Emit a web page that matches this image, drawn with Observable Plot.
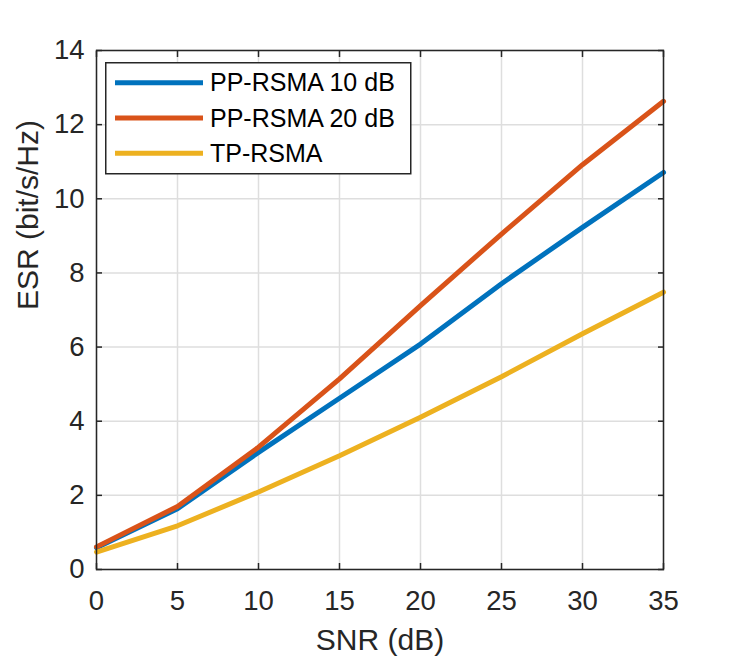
<!DOCTYPE html>
<html>
<head>
<meta charset="utf-8">
<script src="https://cdn.jsdelivr.net/npm/d3@7"></script>
<script src="https://cdn.jsdelivr.net/npm/@observablehq/plot@0.6"></script>
<style>
  html, body { margin: 0; padding: 0; background: #fff; }
  #wrap { position: relative; width: 731px; height: 659px; }
  #legend { position: absolute; left: 105px; top: 62px; }
</style>
</head>
<body>
<div id="wrap"></div>
<script>
const snr = [0, 5, 10, 15, 20, 25, 30, 35];
const pp10 = [0.59, 1.64, 3.16, 4.62, 6.08, 7.71, 9.23, 10.71];
const pp20 = [0.61, 1.70, 3.30, 5.14, 7.12, 9.05, 10.92, 12.63];
const tp   = [0.47, 1.18, 2.09, 3.07, 4.11, 5.20, 6.36, 7.48];
const seriesNames = ["PP-RSMA 10 dB", "PP-RSMA 20 dB", "TP-RSMA"];
const seriesColors = ["#0072BD", "#D95319", "#EDB120"];
const xTicks = [0, 5, 10, 15, 20, 25, 30, 35];
const yTicks = [0, 2, 4, 6, 8, 10, 12, 14];
const xLabel = "SNR (dB)";
const yLabel = "ESR (bit/s/Hz)";

const seriesValues = [pp10, pp20, tp];
const data = [];
seriesNames.forEach((name, k) => {
  snr.forEach((x, i) => data.push({series: name, snr: x, esr: seriesValues[k][i]}));
});

const ink = "#262626";
const chart = Plot.plot({
  width: 731,
  height: 659,
  marginLeft: 96,
  marginRight: 68,
  marginTop: 50,
  marginBottom: 90,
  style: {fontFamily: "Liberation Sans, Arial, sans-serif", fontSize: "27.5px", color: ink, background: "#fff"},
  x: {domain: [0, 35], label: null},
  y: {domain: [0, 14], label: null},
  color: {domain: seriesNames, range: seriesColors},
  marks: [
    Plot.gridX(xTicks, {stroke: "#dedede", strokeOpacity: 1, strokeWidth: 1.5}),
    Plot.gridY(yTicks, {stroke: "#dedede", strokeOpacity: 1, strokeWidth: 1.5}),
    Plot.line(data, {x: "snr", y: "esr", z: "series", stroke: "series", strokeWidth: 5, strokeLinejoin: "round"}),
    Plot.frame({stroke: ink, strokeWidth: 1.5}),
    Plot.axisX(xTicks, {anchor: "bottom", tickSize: -6, tickPadding: 27, stroke: ink, strokeWidth: 1.5, fill: ink, label: null}),
    Plot.axisX(xTicks, {anchor: "top", tickSize: -6, tickFormat: () => "", stroke: ink, strokeWidth: 1.5, label: null}),
    Plot.axisY(yTicks, {anchor: "left", tickSize: -6, tickPadding: 18, stroke: ink, strokeWidth: 1.5, fill: ink, label: null}),
    Plot.axisY(yTicks, {anchor: "right", tickSize: -6, tickFormat: () => "", stroke: ink, strokeWidth: 1.5, label: null}),
    Plot.text([xLabel], {text: d => d, frameAnchor: "bottom", dy: 71, lineAnchor: "middle", fontSize: 30, fill: ink}),
    Plot.text([yLabel], {text: d => d, frameAnchor: "left", dx: -68, rotate: -90, lineAnchor: "middle", fontSize: 30, fill: ink})
  ]
});

const wrap = document.getElementById("wrap");
wrap.appendChild(chart);

// Legend box overlay
const lw = 305, lh = 111, rowGap = 35.3, row0 = 20.7;
const leg = d3.select(wrap).append("svg")
  .attr("id", "legend")
  .attr("width", lw + 2).attr("height", lh + 2);
leg.append("rect")
  .attr("x", 0.75).attr("y", 0.75).attr("width", lw).attr("height", lh)
  .attr("fill", "#fff").attr("stroke", ink).attr("stroke-width", 1.5);
seriesNames.forEach((name, i) => {
  const cy = row0 + i * rowGap;
  leg.append("line")
    .attr("x1", 10).attr("x2", 98).attr("y1", cy).attr("y2", cy)
    .attr("stroke", seriesColors[i]).attr("stroke-width", 5);
  leg.append("text")
    .attr("x", 105).attr("y", cy).attr("dy", "0.35em")
    .attr("font-family", "Liberation Sans, Arial, sans-serif")
    .attr("font-size", 25).attr("fill", "#000")
    .text(name);
});
</script>
</body>
</html>
